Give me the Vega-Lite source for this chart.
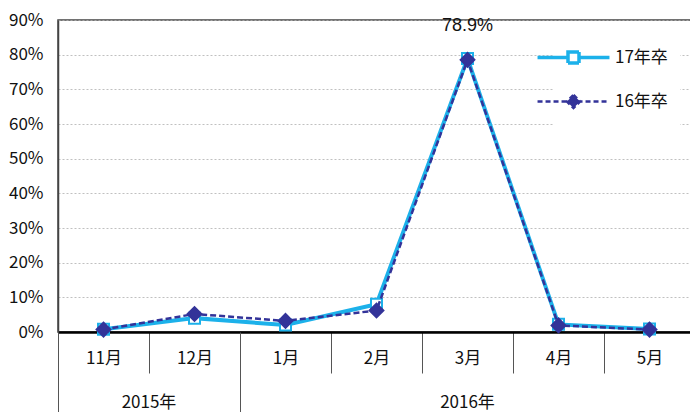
{
  "$schema": "https://vega.github.io/schema/vega-lite/v6.json",
  "autosize": "none",
  "width": 637,
  "height": 312,
  "padding": {"left": 58, "top": 20, "right": 0, "bottom": 80},
  "background": "white",
  "config": {
    "view": {"stroke": "#444", "strokeWidth": 1.5},
    "font": "Noto Sans CJK JP",
    "axis": {"labelFont": "Noto Sans CJK JP", "labelColor": "#111"},
    "legend": {"labelFont": "Noto Sans CJK JP"}
  },
  "data": {
    "values": [
      {"month": "11月", "series": "17年卒", "value": 0.008},
      {"month": "12月", "series": "17年卒", "value": 0.040},
      {"month": "1月", "series": "17年卒", "value": 0.020},
      {"month": "2月", "series": "17年卒", "value": 0.080},
      {"month": "3月", "series": "17年卒", "value": 0.789},
      {"month": "4月", "series": "17年卒", "value": 0.022},
      {"month": "5月", "series": "17年卒", "value": 0.009},
      {"month": "11月", "series": "16年卒", "value": 0.007},
      {"month": "12月", "series": "16年卒", "value": 0.052},
      {"month": "1月", "series": "16年卒", "value": 0.032},
      {"month": "2月", "series": "16年卒", "value": 0.062},
      {"month": "3月", "series": "16年卒", "value": 0.785},
      {"month": "4月", "series": "16年卒", "value": 0.019},
      {"month": "5月", "series": "16年卒", "value": 0.007}
    ]
  },
  "resolve": {"axis": {"x": "independent"}},
  "encoding": {
    "y": {
      "field": "value", "type": "quantitative",
      "scale": {"domain": [0, 0.9], "nice": false},
      "axis": {
        "title": null, "format": ".0%", "values": [0, 0.1, 0.2, 0.3, 0.4, 0.5, 0.6, 0.7, 0.8, 0.9],
        "labelOverlap": false,
        "grid": true, "gridColor": "#b0b0b0", "gridDash": [2, 2], "gridWidth": 0.8,
        "ticks": false, "labelPadding": 15, "labelFontSize": 17,
        "domain": true, "domainColor": "#444", "domainWidth": 1.5
      }
    }
  },
  "layer": [
    {
      "transform": [{"filter": "datum.series === '17年卒'"}],
      "mark": {"type": "line", "strokeWidth": 4},
      "encoding": {
        "x": {
          "field": "month", "type": "nominal", "sort": null,
          "scale": {"domain": ["11月", "12月", "1月", "2月", "3月", "4月", "5月"], "paddingInner": 0, "paddingOuter": 0},
          "axis": {
            "orient": "bottom", "title": null, "labelAngle": 0,
            "domain": true, "domainColor": "#000", "domainWidth": 2.5,
            "tickBand": "extent", "tickSize": 41, "tickColor": "#555", "tickWidth": 1,
            "labelFontSize": 17, "labelBaseline": "middle", "labelPadding": -15, "grid": false
          }
        },
        "color": {
          "field": "series", "type": "nominal",
          "scale": {"domain": ["17年卒", "16年卒"], "range": ["#1CB1EA", "#333399"]},
          "legend": {
            "title": null, "orient": "none", "legendX": 495, "legendY": 17,
            "padding": 12, "fillColor": "white", "symbolSize": 484, "rowPadding": 19,
            "labelOffset": 33, "labelFontSize": 17, "labelColor": "#111",
            "encode": {
              "symbols": {
                "update": {
                  "shape": {"signal": "datum.value === '17年卒' ? 'M-3.27,0H-0.5M0.5,0H3.27M-0.5,-0.5H0.5V0.5H-0.5Z' : 'M-3.27,0H3.27M0,-0.6L0.6,0L0,0.6L-0.6,0Z'"},
                  "fill": {"signal": "datum.value === '17年卒' ? 'white' : '#333399'"},
                  "stroke": {"signal": "datum.value === '17年卒' ? '#1CB1EA' : '#333399'"},
                  "strokeWidth": {"signal": "datum.value === '17年卒' ? 3.5 : 2.5"},
                  "strokeDash": {"signal": "datum.value === '17年卒' ? [1, 0] : [5, 3]"},
                  "opacity": {"value": 1}
                }
              }
            }
          }
        }
      }
    },
    {
      "transform": [{"filter": "datum.series === '17年卒'"}],
      "mark": {"type": "point", "shape": "square", "filled": true, "fill": "white", "stroke": "#1CB1EA", "strokeWidth": 2, "size": 121, "opacity": 1},
      "encoding": {
        "x": {
          "field": "month", "type": "nominal", "sort": null,
          "axis": {
            "orient": "bottom", "title": null, "values": ["11月", "1月"], "bandPosition": 0,
            "tickSize": 80, "tickColor": "#555", "tickWidth": 1, "labels": false, "domain": false, "grid": false
          }
        }
      }
    },
    {
      "transform": [{"filter": "datum.series === '16年卒'"}],
      "mark": {"type": "line", "strokeWidth": 2.5, "strokeDash": [6, 3]},
      "encoding": {
        "x": {"field": "month", "type": "nominal", "sort": null, "axis": null},
        "color": {"field": "series", "type": "nominal"}
      }
    },
    {
      "transform": [{"filter": "datum.series === '16年卒'"}],
      "mark": {"type": "point", "shape": "diamond", "filled": true, "fill": "#333399", "stroke": "#333399", "size": 190, "opacity": 1},
      "encoding": {
        "x": {
          "field": "month", "type": "nominal", "sort": null,
          "axis": {
            "orient": "bottom", "title": null, "values": ["11月"], "bandPosition": 0.5,
            "ticks": false, "tickSize": 0, "domain": false, "grid": false, "labelOffset": 45.5,
            "labelExpr": "'2015年'", "labelFontSize": 17, "labelBaseline": "middle", "labelPadding": 70, "labelAngle": 0
          }
        }
      }
    },
    {
      "transform": [{"filter": "datum.series === '17年卒' && datum.month === '3月'"}],
      "mark": {"type": "text", "dy": -32, "fontSize": 18, "font": "Liberation Sans, Noto Sans CJK JP", "color": "#111"},
      "encoding": {
        "x": {
          "field": "month", "type": "nominal", "sort": null,
          "axis": {
            "orient": "bottom", "title": null, "values": ["3月"], "bandPosition": 0.5,
            "ticks": false, "tickSize": 0, "domain": false, "grid": false,
            "labelExpr": "'2016年'", "labelFontSize": 17, "labelBaseline": "middle", "labelPadding": 70, "labelAngle": 0
          }
        },
        "text": {"field": "value", "type": "quantitative", "format": ".1%"}
      }
    }
  ]
}
